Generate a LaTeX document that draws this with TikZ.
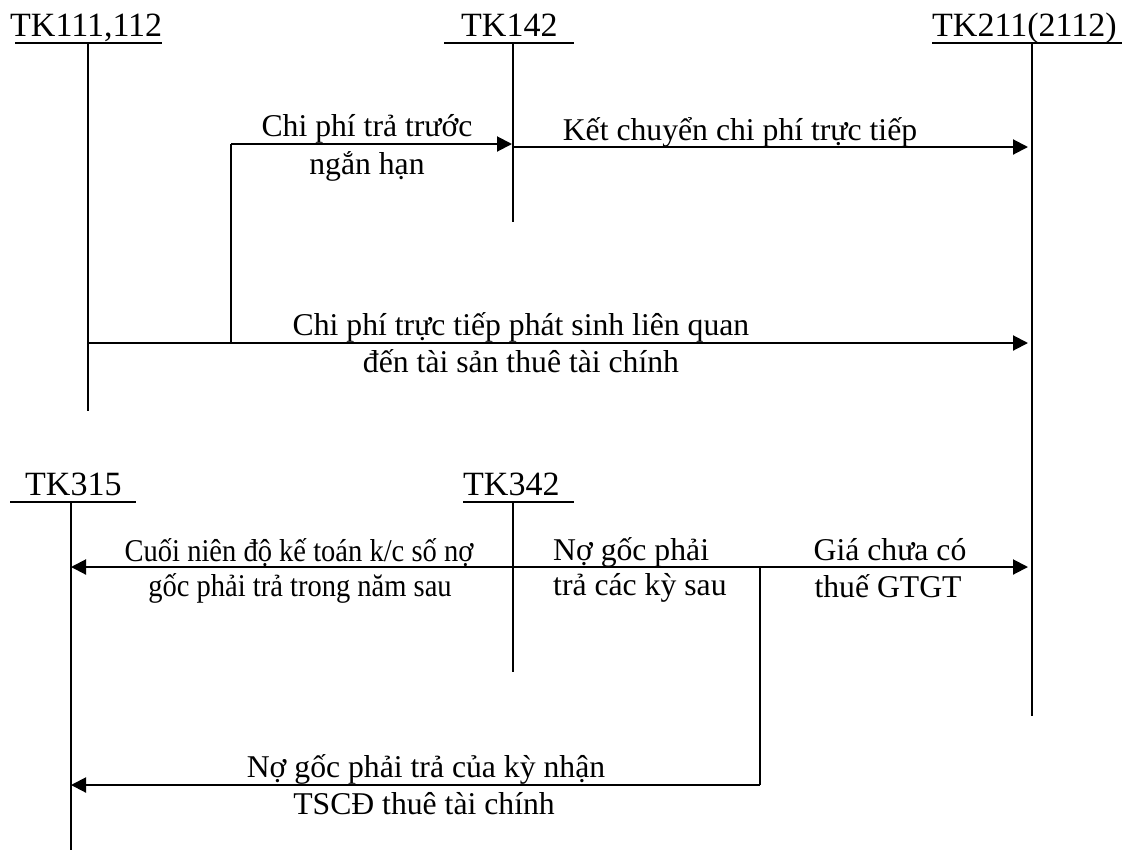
\documentclass[tikz,border=0pt]{standalone}
\usepackage{fontspec}
\setmainfont{Liberation Serif}
\usetikzlibrary{arrows.meta}
\begin{document}
\begin{tikzpicture}[x=1pt,y=-1pt,
  acct/.style={line width=1.4pt},
  uline/.style={line width=1.8pt},
  flow/.style={line width=2pt,-{Triangle[length=15pt,width=15pt]}},
  link/.style={line width=1.4pt},
  head/.style={inner sep=0pt,anchor=base west,font=\fontsize{34}{40}\selectfont},
  lbl/.style={inner sep=0pt,anchor=base,font=\fontsize{31.7}{38}\selectfont},
  lbll/.style={inner sep=0pt,anchor=base west,font=\fontsize{31.7}{38}\selectfont}]
\useasboundingbox (0,0) rectangle (1124,852);
\fill[white] (0,0) rectangle (1124,852);

% ---- T accounts ----
\node[head] (h111) at (10,36) {TK111,112};
\coordinate (u111a) at (15,43); \coordinate (u111b) at (162,43);
\coordinate (v111t) at (88,43); \coordinate (v111b) at (88,411);
\draw[uline] (u111a) -- (u111b);
\draw[acct] (v111t) -- (v111b);

\node[head] (h142) at (461,36) {TK142};
\coordinate (u142a) at (444,43); \coordinate (u142b) at (574,43);
\coordinate (v142t) at (513,43); \coordinate (v142b) at (513,222);
\draw[uline] (u142a) -- (u142b);
\draw[acct] (v142t) -- (v142b);

\node[head] (h211) at (932,36) {TK211(2112)};
\coordinate (u211a) at (932,43); \coordinate (u211b) at (1122,43);
\coordinate (v211t) at (1032,43); \coordinate (v211b) at (1032,716);
\draw[uline] (u211a) -- (u211b);
\draw[acct] (v211t) -- (v211b);

\node[head] (h315) at (25,495) {TK315};
\coordinate (u315a) at (10,502); \coordinate (u315b) at (136,502);
\coordinate (v315t) at (71,502); \coordinate (v315b) at (71,850);
\draw[uline] (u315a) -- (u315b);
\draw[acct] (v315t) -- (v315b);

\node[head] (h342) at (463,495) {TK342};
\coordinate (u342a) at (463,502); \coordinate (u342b) at (574,502);
\coordinate (v342t) at (513,502); \coordinate (v342b) at (513,672);
\draw[uline] (u342a) -- (u342b);
\draw[acct] (v342t) -- (v342b);

% ---- connection points ----
\coordinate (a111) at (88,343);
\coordinate (j1) at (231,343);
\coordinate (j1t) at (231,144);
\coordinate (a142in) at (512,144);
\coordinate (a142out) at (513,147);
\coordinate (a211top) at (1028,147);
\coordinate (a211mid) at (1028,343);
\coordinate (j2) at (760,567);
\coordinate (a211bot) at (1028,567);
\coordinate (a315a) at (71,567);
\coordinate (j2b) at (760,785);
\coordinate (a315b) at (71,785);

% ---- connectors ----
\draw[flow] (a111) -- (a211mid);
\draw[link] (j1) -- (j1t);
\draw[flow] (j1t) -- (a142in);
\draw[flow] (a142out) -- (a211top);
\draw[flow] (j2) -- (a211bot);
\draw[flow] (j2) -- (a315a);
\draw[link] (j2) -- (j2b);
\draw[flow] (j2b) -- (a315b);

% ---- labels ----
\node[lbl] (l1a) at (367,136) {Chi phí trả trước};
\node[lbl] (l1b) at (367,174) {ngắn hạn};
\node[lbl] (l2) at (740,140) {Kết chuyển chi phí trực tiếp};
\node[lbl] (l3a) at (521,335) {Chi phí trực tiếp phát sinh liên quan};
\node[lbl] (l3b) at (521,372) {đến tài sản thuê tài chính};
\node[lbl] (l4a) at (299,561) {\scalebox{0.9}[1]{Cuối niên độ kế toán k/c số nợ}};
\node[lbl] (l4b) at (300,596) {\scalebox{0.9}[1]{gốc phải trả trong năm sau}};
\node[lbll] (l5a) at (553,560) {Nợ gốc phải};
\node[lbll] (l5b) at (553,595) {trả các kỳ sau};
\node[lbl] (l6a) at (890,560) {Giá chưa có};
\node[lbl] (l6b) at (888,597) {thuế GTGT};
\node[lbl] (l7a) at (426,777) {Nợ gốc phải trả của kỳ nhận};
\node[lbl] (l7b) at (424,814) {TSCĐ thuê tài chính};
\end{tikzpicture}
\end{document}
